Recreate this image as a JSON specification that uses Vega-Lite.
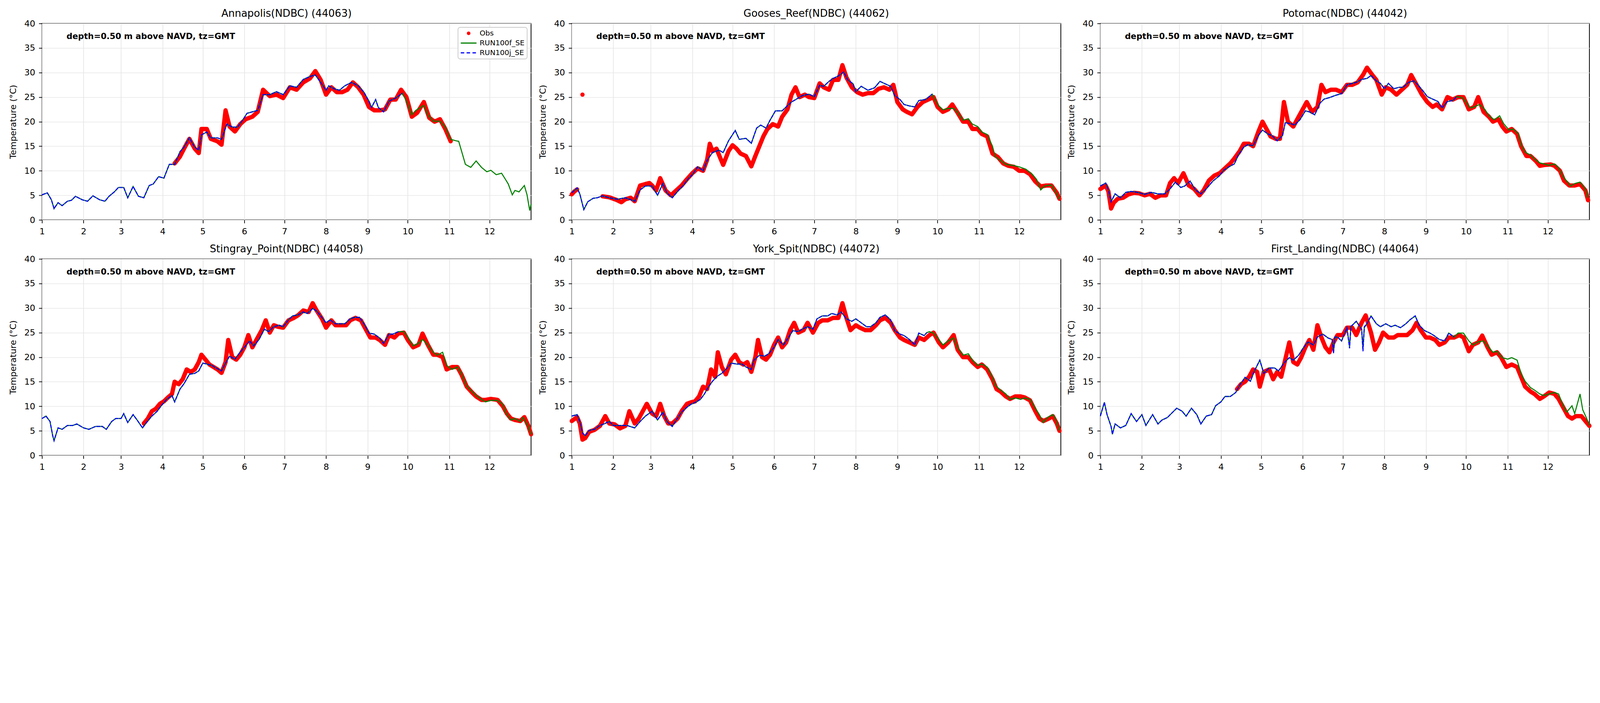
{
"$schema":"https://vega.github.io/schema/vega-lite/v6.json",
"background":"white",
"padding":{"left":20.5,"top":21,"right":25,"bottom":8},
"config":{
"font":"DejaVu Sans",
"view":{"stroke":"black","strokeWidth":2},
"title":{"font":"DejaVu Sans","fontSize":26,"fontWeight":"normal","color":"black","offset":1,"anchor":"middle"},
"axis":{"labelFont":"DejaVu Sans","titleFont":"DejaVu Sans","labelFontSize":22,"titleFontSize":22,"titleFontWeight":"normal","labelColor":"black","titleColor":"black","tickColor":"black","tickSize":8.2,"tickWidth":1.8,"domain":false,"gridColor":"#e6e6e6","gridWidth":1.7,"labelPadding":9.6,"labelFlush":false,"labelOverlap":false}
},
"data":{"values":[
{"p":1,"a":"depth=0.50 m above NAVD, tz=GMT"},{"p":2,"a":"depth=0.50 m above NAVD, tz=GMT"},{"p":3,"a":"depth=0.50 m above NAVD, tz=GMT"},{"p":4,"a":"depth=0.50 m above NAVD, tz=GMT"},{"p":5,"a":"depth=0.50 m above NAVD, tz=GMT"},{"p":6,"a":"depth=0.50 m above NAVD, tz=GMT"},
{"p":1,"d":0,"f":5.1,"j":5.1},{"p":1,"d":4,"f":5.5,"j":5.5},{"p":1,"d":7,"f":4.1,"j":4.1},{"p":1,"d":9,"f":2.3,"j":2.3},{"p":1,"d":12,"f":3.5,"j":3.5},{"p":1,"d":15,"f":2.9,"j":2.9},{"p":1,"d":19,"f":3.8,"j":3.8},{"p":1,"d":22,"f":4.0,"j":4.0},{"p":1,"d":25,"f":4.8,"j":4.8},{"p":1,"d":30,"f":4.1,"j":4.1},{"p":1,"d":34,"f":3.8,"j":3.8},{"p":1,"d":38,"f":4.9,"j":4.9},{"p":1,"d":43,"f":4.1,"j":4.1},{"p":1,"d":47,"f":3.8,"j":3.8},{"p":1,"d":50,"f":4.8,"j":4.8},{"p":1,"d":54,"f":5.7,"j":5.7},{"p":1,"d":57,"f":6.6,"j":6.6},{"p":1,"d":61,"f":6.6,"j":6.6},{"p":1,"d":64,"f":4.5,"j":4.5},{"p":1,"d":68,"f":6.8,"j":6.8},{"p":1,"d":72,"f":4.8,"j":4.8},{"p":1,"d":76,"f":4.5,"j":4.5},{"p":1,"d":80,"f":7.0,"j":7.0},{"p":1,"d":83,"f":7.3,"j":7.3},{"p":1,"d":87,"f":8.8,"j":8.8},{"p":1,"d":91,"f":8.5,"j":8.5},{"p":1,"d":95,"f":11.3,"j":11.3},{"p":1,"d":99,"f":11.3,"j":11.3},{"p":1,"d":103,"f":13.9,"j":13.9},{"p":1,"d":106,"f":14.8,"j":14.8},{"p":1,"d":110,"f":16.7,"j":16.7},{"p":1,"d":114,"f":14.8,"j":14.8},{"p":1,"d":117,"f":14.2,"j":14.2},{"p":1,"d":119,"f":17.3,"j":17.3},{"p":1,"d":123,"f":17.9,"j":17.9},{"p":1,"d":126,"f":16.7,"j":16.7},{"p":1,"d":131,"f":16.7,"j":16.7},{"p":1,"d":134,"f":16.4,"j":16.4},{"p":1,"d":138,"f":19.5,"j":19.5},{"p":1,"d":142,"f":18.9,"j":18.9},{"p":1,"d":146,"f":18.9,"j":18.9},{"p":1,"d":150,"f":20.4,"j":20.4},{"p":1,"d":153,"f":21.7,"j":21.7},{"p":1,"d":157,"f":22.0,"j":22.0},{"p":1,"d":161,"f":22.3,"j":22.3},{"p":1,"d":165,"f":25.5,"j":25.5},{"p":1,"d":170,"f":25.5,"j":25.5},{"p":1,"d":175,"f":26.1,"j":26.1},{"p":1,"d":180,"f":25.5,"j":25.5},{"p":1,"d":185,"f":27.3,"j":27.3},{"p":1,"d":190,"f":27.0,"j":27.0},{"p":1,"d":195,"f":28.6,"j":28.6},{"p":1,"d":200,"f":29.2,"j":29.2},{"p":1,"d":204,"f":29.5,"j":29.5},{"p":1,"d":208,"f":28.0,"j":28.0},{"p":1,"d":212,"f":26.4,"j":26.4},{"p":1,"d":214,"f":27.3,"j":27.3},{"p":1,"d":218,"f":26.7,"j":26.7},{"p":1,"d":222,"f":26.4,"j":26.4},{"p":1,"d":226,"f":27.3,"j":27.3},{"p":1,"d":231,"f":28.0,"j":28.0},{"p":1,"d":236,"f":27.3,"j":27.3},{"p":1,"d":240,"f":26.1,"j":26.1},{"p":1,"d":244,"f":24.2,"j":24.2},{"p":1,"d":246,"f":22.9,"j":22.9},{"p":1,"d":249,"f":24.5,"j":24.5},{"p":1,"d":251,"f":22.9,"j":22.9},{"p":1,"d":255,"f":22.0,"j":22.0},{"p":1,"d":259,"f":24.2,"j":24.2},{"p":1,"d":264,"f":24.8,"j":24.8},{"p":1,"d":269,"f":25.8,"j":25.8},
{"p":1,"d":273,"f":23.6},{"p":1,"d":276,"f":21.4},{"p":1,"d":279,"f":22.3},{"p":1,"d":285,"f":23.3},{"p":1,"d":288,"f":21.4},{"p":1,"d":292,"f":20.1},{"p":1,"d":297,"f":20.1},{"p":1,"d":301,"f":18.9},{"p":1,"d":305,"f":16.4},{"p":1,"d":309,"f":16.1},{"p":1,"d":311,"f":16.0},{"p":1,"d":314,"f":13.2},{"p":1,"d":316,"f":11.3},{"p":1,"d":320,"f":10.7},{"p":1,"d":324,"f":12.0},{"p":1,"d":328,"f":10.7},{"p":1,"d":332,"f":9.8},{"p":1,"d":335,"f":10.1},{"p":1,"d":339,"f":9.2},{"p":1,"d":343,"f":9.5},{"p":1,"d":346,"f":8.2},{"p":1,"d":348,"f":7.3},{"p":1,"d":351,"f":5.1},{"p":1,"d":353,"f":6.0},{"p":1,"d":356,"f":5.7},{"p":1,"d":360,"f":7.0},{"p":1,"d":362,"f":5.1},{"p":1,"d":364,"f":1.9},{"p":1,"d":365,"f":3.2},
{"p":1,"d":99,"o":11.5},{"p":1,"d":103,"o":12.9},{"p":1,"d":106,"o":14.5},{"p":1,"d":110,"o":16.5},{"p":1,"d":114,"o":14.5},{"p":1,"d":117,"o":13.6},{"p":1,"d":119,"o":18.5},{"p":1,"d":123,"o":18.5},{"p":1,"d":126,"o":16.5},{"p":1,"d":131,"o":16.0},{"p":1,"d":134,"o":15.3},{"p":1,"d":137,"o":22.3},{"p":1,"d":140,"o":19.0},{"p":1,"d":144,"o":18.0},{"p":1,"d":148,"o":19.5},{"p":1,"d":152,"o":20.5},{"p":1,"d":157,"o":21.0},{"p":1,"d":161,"o":22.0},{"p":1,"d":165,"o":26.5},{"p":1,"d":170,"o":25.2},{"p":1,"d":175,"o":25.5},{"p":1,"d":180,"o":24.8},{"p":1,"d":185,"o":27.0},{"p":1,"d":190,"o":26.5},{"p":1,"d":195,"o":28.0},{"p":1,"d":200,"o":28.8},{"p":1,"d":204,"o":30.3},{"p":1,"d":208,"o":28.5},{"p":1,"d":212,"o":25.5},{"p":1,"d":216,"o":27.0},{"p":1,"d":220,"o":26.0},{"p":1,"d":224,"o":26.0},{"p":1,"d":228,"o":26.5},{"p":1,"d":232,"o":28.0},{"p":1,"d":236,"o":27.0},{"p":1,"d":240,"o":25.5},{"p":1,"d":244,"o":23.0},{"p":1,"d":248,"o":22.3},{"p":1,"d":252,"o":22.3},{"p":1,"d":256,"o":22.5},{"p":1,"d":260,"o":24.5},{"p":1,"d":264,"o":24.5},{"p":1,"d":268,"o":26.5},{"p":1,"d":272,"o":25.0},{"p":1,"d":276,"o":21.0},{"p":1,"d":280,"o":21.8},{"p":1,"d":285,"o":24.0},{"p":1,"d":289,"o":20.8},{"p":1,"d":293,"o":20.0},{"p":1,"d":297,"o":20.5},{"p":1,"d":301,"o":18.5},{"p":1,"d":305,"o":16.0},
{"p":2,"d":0,"f":5.5,"j":5.5},{"p":2,"d":4,"f":6.5,"j":6.5},{"p":2,"d":6,"f":5.3,"j":5.3},{"p":2,"d":9,"f":2.1,"j":2.1},{"p":2,"d":12,"f":3.7,"j":3.7},{"p":2,"d":16,"f":4.4,"j":4.4},{"p":2,"d":19,"f":4.5,"j":4.5},{"p":2,"d":23,"f":4.9,"j":4.9},{"p":2,"d":28,"f":4.5,"j":4.5},{"p":2,"d":34,"f":4.2,"j":4.2},{"p":2,"d":40,"f":4.5,"j":4.5},{"p":2,"d":47,"f":3.8,"j":3.8},{"p":2,"d":51,"f":6.1,"j":6.1},{"p":2,"d":55,"f":6.9,"j":6.9},{"p":2,"d":60,"f":6.9,"j":6.9},{"p":2,"d":64,"f":5.0,"j":5.0},{"p":2,"d":68,"f":7.4,"j":7.4},{"p":2,"d":71,"f":5.5,"j":5.5},{"p":2,"d":75,"f":4.5,"j":4.5},{"p":2,"d":80,"f":6.1,"j":6.1},{"p":2,"d":83,"f":6.9,"j":6.9},{"p":2,"d":87,"f":8.4,"j":8.4},{"p":2,"d":90,"f":9.2,"j":9.2},{"p":2,"d":94,"f":10.8,"j":10.8},{"p":2,"d":98,"f":10.0,"j":10.0},{"p":2,"d":101,"f":12.1,"j":12.1},{"p":2,"d":105,"f":13.7,"j":13.7},{"p":2,"d":110,"f":14.2,"j":14.2},{"p":2,"d":113,"f":13.7,"j":13.7},{"p":2,"d":117,"f":16.1,"j":16.1},{"p":2,"d":122,"f":18.2,"j":18.2},{"p":2,"d":125,"f":16.4,"j":16.4},{"p":2,"d":130,"f":16.6,"j":16.6},{"p":2,"d":134,"f":15.6,"j":15.6},{"p":2,"d":138,"f":18.7,"j":18.7},{"p":2,"d":141,"f":19.3,"j":19.3},{"p":2,"d":145,"f":18.7,"j":18.7},{"p":2,"d":148,"f":20.3,"j":20.3},{"p":2,"d":152,"f":22.2,"j":22.2},{"p":2,"d":157,"f":22.2,"j":22.2},{"p":2,"d":160,"f":23.0,"j":23.0},{"p":2,"d":164,"f":24.0,"j":24.0},{"p":2,"d":169,"f":24.8,"j":24.8},{"p":2,"d":172,"f":25.3,"j":25.3},{"p":2,"d":177,"f":25.6,"j":25.6},{"p":2,"d":181,"f":25.1,"j":25.1},{"p":2,"d":185,"f":27.4,"j":27.4},{"p":2,"d":188,"f":27.2,"j":27.2},{"p":2,"d":192,"f":28.2,"j":28.2},{"p":2,"d":195,"f":28.8,"j":28.8},{"p":2,"d":199,"f":29.3,"j":29.3},{"p":2,"d":203,"f":30.1,"j":30.1},{"p":2,"d":206,"f":28.5,"j":28.5},{"p":2,"d":210,"f":27.7,"j":27.7},{"p":2,"d":212,"f":26.1,"j":26.1},{"p":2,"d":216,"f":27.2,"j":27.2},{"p":2,"d":221,"f":26.4,"j":26.4},{"p":2,"d":226,"f":26.9,"j":26.9},{"p":2,"d":230,"f":28.2,"j":28.2},{"p":2,"d":234,"f":27.7,"j":27.7},{"p":2,"d":238,"f":27.2,"j":27.2},{"p":2,"d":241,"f":25.3,"j":25.3},{"p":2,"d":245,"f":24.5,"j":24.5},{"p":2,"d":248,"f":23.5,"j":23.5},{"p":2,"d":252,"f":23.2,"j":23.2},{"p":2,"d":256,"f":23.0,"j":23.0},{"p":2,"d":259,"f":24.3,"j":24.3},{"p":2,"d":264,"f":24.5,"j":24.5},{"p":2,"d":269,"f":25.6,"j":25.6},
{"p":2,"d":271,"f":24.5},{"p":2,"d":274,"f":23.2},{"p":2,"d":277,"f":22.4},{"p":2,"d":281,"f":22.7},{"p":2,"d":285,"f":22.7},{"p":2,"d":288,"f":21.9},{"p":2,"d":292,"f":20.3},{"p":2,"d":296,"f":20.6},{"p":2,"d":299,"f":19.5},{"p":2,"d":303,"f":19.0},{"p":2,"d":306,"f":17.9},{"p":2,"d":310,"f":17.4},{"p":2,"d":314,"f":15.0},{"p":2,"d":316,"f":12.9},{"p":2,"d":320,"f":12.1},{"p":2,"d":324,"f":11.3},{"p":2,"d":329,"f":11.1},{"p":2,"d":334,"f":10.8},{"p":2,"d":339,"f":10.3},{"p":2,"d":344,"f":9.2},{"p":2,"d":347,"f":8.2},{"p":2,"d":350,"f":6.1},{"p":2,"d":353,"f":6.9},{"p":2,"d":358,"f":7.1},{"p":2,"d":362,"f":5.3},{"p":2,"d":364,"f":4.2},
{"p":2,"d":0,"o":5.2,"g":2},{"p":2,"d":2,"o":5.8,"g":2},{"p":2,"d":4,"o":6.2,"g":2},{"p":2,"d":8,"o":25.5,"g":1},
{"p":2,"d":23,"o":4.8},{"p":2,"d":28,"o":4.6},{"p":2,"d":34,"o":4.0},{"p":2,"d":37,"o":3.6},{"p":2,"d":40,"o":4.2},{"p":2,"d":44,"o":4.5},{"p":2,"d":47,"o":3.8},{"p":2,"d":51,"o":7.0},{"p":2,"d":55,"o":7.3},{"p":2,"d":58,"o":7.5},{"p":2,"d":60,"o":7.0},{"p":2,"d":63,"o":6.0},{"p":2,"d":66,"o":8.5},{"p":2,"d":70,"o":6.0},{"p":2,"d":74,"o":5.0},{"p":2,"d":78,"o":6.0},{"p":2,"d":82,"o":7.0},{"p":2,"d":86,"o":8.3},{"p":2,"d":90,"o":9.5},{"p":2,"d":94,"o":10.5},{"p":2,"d":98,"o":10.0},{"p":2,"d":101,"o":12.2},{"p":2,"d":103,"o":15.5},{"p":2,"d":105,"o":14.0},{"p":2,"d":108,"o":14.5},{"p":2,"d":111,"o":12.5},{"p":2,"d":113,"o":11.2},{"p":2,"d":117,"o":14.0},{"p":2,"d":120,"o":15.2},{"p":2,"d":123,"o":14.5},{"p":2,"d":126,"o":13.5},{"p":2,"d":130,"o":13.0},{"p":2,"d":134,"o":10.9},{"p":2,"d":137,"o":13.0},{"p":2,"d":140,"o":15.0},{"p":2,"d":143,"o":17.0},{"p":2,"d":146,"o":18.5},{"p":2,"d":150,"o":19.5},{"p":2,"d":154,"o":19.0},{"p":2,"d":157,"o":21.0},{"p":2,"d":161,"o":22.5},{"p":2,"d":164,"o":25.5},{"p":2,"d":167,"o":27.0},{"p":2,"d":170,"o":25.0},{"p":2,"d":174,"o":25.5},{"p":2,"d":177,"o":25.0},{"p":2,"d":181,"o":24.8},{"p":2,"d":185,"o":27.8},{"p":2,"d":188,"o":27.0},{"p":2,"d":192,"o":26.5},{"p":2,"d":195,"o":28.5},{"p":2,"d":199,"o":28.5},{"p":2,"d":202,"o":31.5},{"p":2,"d":205,"o":29.0},{"p":2,"d":209,"o":27.0},{"p":2,"d":213,"o":26.0},{"p":2,"d":217,"o":25.5},{"p":2,"d":221,"o":25.8},{"p":2,"d":225,"o":25.8},{"p":2,"d":229,"o":26.7},{"p":2,"d":233,"o":27.0},{"p":2,"d":237,"o":26.5},{"p":2,"d":240,"o":27.5},{"p":2,"d":243,"o":24.0},{"p":2,"d":247,"o":22.5},{"p":2,"d":250,"o":22.0},{"p":2,"d":254,"o":21.5},{"p":2,"d":258,"o":23.0},{"p":2,"d":262,"o":24.0},{"p":2,"d":266,"o":24.5},{"p":2,"d":270,"o":25.0},{"p":2,"d":273,"o":23.0},{"p":2,"d":277,"o":22.0},{"p":2,"d":281,"o":22.5},{"p":2,"d":284,"o":23.5},{"p":2,"d":288,"o":21.8},{"p":2,"d":292,"o":20.0},{"p":2,"d":296,"o":20.0},{"p":2,"d":299,"o":18.5},{"p":2,"d":303,"o":18.5},{"p":2,"d":306,"o":17.5},{"p":2,"d":310,"o":17.0},{"p":2,"d":314,"o":13.5},{"p":2,"d":318,"o":12.8},{"p":2,"d":322,"o":11.5},{"p":2,"d":326,"o":11.0},{"p":2,"d":330,"o":10.8},{"p":2,"d":334,"o":10.0},{"p":2,"d":338,"o":10.0},{"p":2,"d":342,"o":9.3},{"p":2,"d":346,"o":7.8},{"p":2,"d":350,"o":6.8},{"p":2,"d":354,"o":7.0},{"p":2,"d":358,"o":7.0},{"p":2,"d":362,"o":5.5},{"p":2,"d":364,"o":4.3},
{"p":3,"d":0,"f":6.9,"j":6.9},{"p":3,"d":4,"f":7.5,"j":7.5},{"p":3,"d":6,"f":6.1,"j":6.1},{"p":3,"d":8,"f":3.7,"j":3.7},{"p":3,"d":11,"f":5.3,"j":5.3},{"p":3,"d":15,"f":4.5,"j":4.5},{"p":3,"d":19,"f":5.6,"j":5.6},{"p":3,"d":23,"f":5.8,"j":5.8},{"p":3,"d":28,"f":5.6,"j":5.6},{"p":3,"d":33,"f":5.2,"j":5.2},{"p":3,"d":38,"f":5.6,"j":5.6},{"p":3,"d":43,"f":5.3,"j":5.3},{"p":3,"d":48,"f":5.3,"j":5.3},{"p":3,"d":52,"f":6.3,"j":6.3},{"p":3,"d":56,"f":7.7,"j":7.7},{"p":3,"d":60,"f":6.6,"j":6.6},{"p":3,"d":63,"f":6.9,"j":6.9},{"p":3,"d":67,"f":7.9,"j":7.9},{"p":3,"d":71,"f":6.1,"j":6.1},{"p":3,"d":75,"f":5.3,"j":5.3},{"p":3,"d":79,"f":6.3,"j":6.3},{"p":3,"d":84,"f":7.9,"j":7.9},{"p":3,"d":89,"f":9.0,"j":9.0},{"p":3,"d":92,"f":10.1,"j":10.1},{"p":3,"d":96,"f":10.8,"j":10.8},{"p":3,"d":100,"f":11.4,"j":11.4},{"p":3,"d":103,"f":13.2,"j":13.2},{"p":3,"d":107,"f":14.8,"j":14.8},{"p":3,"d":110,"f":15.3,"j":15.3},{"p":3,"d":114,"f":15.1,"j":15.1},{"p":3,"d":118,"f":17.2,"j":17.2},{"p":3,"d":121,"f":18.3,"j":18.3},{"p":3,"d":125,"f":17.5,"j":17.5},{"p":3,"d":128,"f":17.2,"j":17.2},{"p":3,"d":132,"f":16.1,"j":16.1},{"p":3,"d":136,"f":17.2,"j":17.2},{"p":3,"d":138,"f":19.8,"j":19.8},{"p":3,"d":142,"f":19.6,"j":19.6},{"p":3,"d":145,"f":19.3,"j":19.3},{"p":3,"d":149,"f":20.4,"j":20.4},{"p":3,"d":153,"f":22.2,"j":22.2},{"p":3,"d":156,"f":22.0,"j":22.0},{"p":3,"d":160,"f":21.4,"j":21.4},{"p":3,"d":164,"f":23.8,"j":23.8},{"p":3,"d":167,"f":24.6,"j":24.6},{"p":3,"d":171,"f":24.9,"j":24.9},{"p":3,"d":176,"f":25.4,"j":25.4},{"p":3,"d":180,"f":25.7,"j":25.7},{"p":3,"d":184,"f":27.5,"j":27.5},{"p":3,"d":188,"f":27.8,"j":27.8},{"p":3,"d":191,"f":28.0,"j":28.0},{"p":3,"d":195,"f":28.6,"j":28.6},{"p":3,"d":199,"f":28.8,"j":28.8},{"p":3,"d":202,"f":29.4,"j":29.4},{"p":3,"d":206,"f":28.3,"j":28.3},{"p":3,"d":209,"f":27.8,"j":27.8},{"p":3,"d":212,"f":26.7,"j":26.7},{"p":3,"d":215,"f":27.8,"j":27.8},{"p":3,"d":219,"f":26.7,"j":26.7},{"p":3,"d":223,"f":27.0,"j":27.0},{"p":3,"d":226,"f":27.0,"j":27.0},{"p":3,"d":230,"f":28.0,"j":28.0},{"p":3,"d":234,"f":28.3,"j":28.3},{"p":3,"d":237,"f":27.5,"j":27.5},{"p":3,"d":241,"f":26.2,"j":26.2},{"p":3,"d":244,"f":25.1,"j":25.1},{"p":3,"d":248,"f":24.6,"j":24.6},{"p":3,"d":252,"f":24.1,"j":24.1},{"p":3,"d":255,"f":22.8,"j":22.8},{"p":3,"d":259,"f":24.1,"j":24.1},{"p":3,"d":263,"f":24.3,"j":24.3},{"p":3,"d":266,"f":25.1,"j":25.1},
{"p":3,"d":270,"f":24.9},{"p":3,"d":272,"f":24.3},{"p":3,"d":276,"f":22.8},{"p":3,"d":279,"f":23.0},{"p":3,"d":283,"f":23.5},{"p":3,"d":287,"f":22.5},{"p":3,"d":290,"f":21.2},{"p":3,"d":294,"f":20.4},{"p":3,"d":298,"f":21.2},{"p":3,"d":301,"f":19.6},{"p":3,"d":305,"f":18.3},{"p":3,"d":308,"f":18.5},{"p":3,"d":312,"f":17.5},{"p":3,"d":314,"f":15.3},{"p":3,"d":317,"f":13.8},{"p":3,"d":321,"f":13.2},{"p":3,"d":324,"f":12.4},{"p":3,"d":328,"f":11.6},{"p":3,"d":331,"f":11.4},{"p":3,"d":335,"f":11.1},{"p":3,"d":339,"f":11.4},{"p":3,"d":342,"f":10.6},{"p":3,"d":345,"f":9.0},{"p":3,"d":348,"f":7.9},{"p":3,"d":351,"f":6.9},{"p":3,"d":354,"f":7.4},{"p":3,"d":358,"f":7.7},{"p":3,"d":362,"f":6.3},{"p":3,"d":364,"f":4.5},
{"p":3,"d":0,"o":6.3},{"p":3,"d":4,"o":7.0},{"p":3,"d":6,"o":5.8},{"p":3,"d":8,"o":2.3},{"p":3,"d":10,"o":3.5},{"p":3,"d":13,"o":4.3},{"p":3,"d":17,"o":4.5},{"p":3,"d":21,"o":5.2},{"p":3,"d":25,"o":5.5},{"p":3,"d":29,"o":5.4},{"p":3,"d":33,"o":5.0},{"p":3,"d":37,"o":5.3},{"p":3,"d":41,"o":4.5},{"p":3,"d":45,"o":5.0},{"p":3,"d":49,"o":5.0},{"p":3,"d":52,"o":7.5},{"p":3,"d":55,"o":8.5},{"p":3,"d":58,"o":7.5},{"p":3,"d":62,"o":9.5},{"p":3,"d":66,"o":7.0},{"p":3,"d":70,"o":6.3},{"p":3,"d":74,"o":5.0},{"p":3,"d":77,"o":6.0},{"p":3,"d":81,"o":8.0},{"p":3,"d":85,"o":9.0},{"p":3,"d":89,"o":9.5},{"p":3,"d":93,"o":10.5},{"p":3,"d":97,"o":11.5},{"p":3,"d":100,"o":12.5},{"p":3,"d":104,"o":14.0},{"p":3,"d":107,"o":15.5},{"p":3,"d":111,"o":15.5},{"p":3,"d":114,"o":15.0},{"p":3,"d":118,"o":18.0},{"p":3,"d":121,"o":20.0},{"p":3,"d":124,"o":18.5},{"p":3,"d":127,"o":17.0},{"p":3,"d":131,"o":16.5},{"p":3,"d":134,"o":16.5},{"p":3,"d":137,"o":24.0},{"p":3,"d":140,"o":20.0},{"p":3,"d":144,"o":19.0},{"p":3,"d":147,"o":20.5},{"p":3,"d":151,"o":22.5},{"p":3,"d":154,"o":24.0},{"p":3,"d":158,"o":22.0},{"p":3,"d":162,"o":23.0},{"p":3,"d":165,"o":27.5},{"p":3,"d":168,"o":26.0},{"p":3,"d":172,"o":26.5},{"p":3,"d":176,"o":26.5},{"p":3,"d":180,"o":26.0},{"p":3,"d":184,"o":27.5},{"p":3,"d":188,"o":27.5},{"p":3,"d":192,"o":28.0},{"p":3,"d":196,"o":29.5},{"p":3,"d":199,"o":31.0},{"p":3,"d":203,"o":29.5},{"p":3,"d":206,"o":28.5},{"p":3,"d":210,"o":25.5},{"p":3,"d":213,"o":27.0},{"p":3,"d":217,"o":26.5},{"p":3,"d":221,"o":25.5},{"p":3,"d":225,"o":26.5},{"p":3,"d":229,"o":27.5},{"p":3,"d":232,"o":29.5},{"p":3,"d":236,"o":27.5},{"p":3,"d":240,"o":25.5},{"p":3,"d":244,"o":24.0},{"p":3,"d":248,"o":23.0},{"p":3,"d":251,"o":23.5},{"p":3,"d":255,"o":22.5},{"p":3,"d":259,"o":25.0},{"p":3,"d":263,"o":24.5},{"p":3,"d":267,"o":25.0},{"p":3,"d":271,"o":25.0},{"p":3,"d":275,"o":22.5},{"p":3,"d":279,"o":23.0},{"p":3,"d":282,"o":25.0},{"p":3,"d":286,"o":22.0},{"p":3,"d":290,"o":21.0},{"p":3,"d":293,"o":20.0},{"p":3,"d":297,"o":20.5},{"p":3,"d":300,"o":19.0},{"p":3,"d":303,"o":18.0},{"p":3,"d":307,"o":18.5},{"p":3,"d":311,"o":17.5},{"p":3,"d":314,"o":15.0},{"p":3,"d":318,"o":13.0},{"p":3,"d":321,"o":13.0},{"p":3,"d":325,"o":12.0},{"p":3,"d":328,"o":11.0},{"p":3,"d":332,"o":11.2},{"p":3,"d":336,"o":11.3},{"p":3,"d":339,"o":11.0},{"p":3,"d":343,"o":10.0},{"p":3,"d":346,"o":8.0},{"p":3,"d":350,"o":7.0},{"p":3,"d":354,"o":7.0},{"p":3,"d":358,"o":7.3},{"p":3,"d":362,"o":6.0},{"p":3,"d":364,"o":4.0},
{"p":4,"d":0,"f":7.5,"j":7.5},{"p":4,"d":3,"f":8.0,"j":8.0},{"p":4,"d":6,"f":6.9,"j":6.9},{"p":4,"d":8,"f":4.0,"j":4.0},{"p":4,"d":9,"f":3.0,"j":3.0},{"p":4,"d":12,"f":5.6,"j":5.6},{"p":4,"d":15,"f":5.3,"j":5.3},{"p":4,"d":19,"f":6.1,"j":6.1},{"p":4,"d":23,"f":6.1,"j":6.1},{"p":4,"d":26,"f":6.4,"j":6.4},{"p":4,"d":31,"f":5.6,"j":5.6},{"p":4,"d":35,"f":5.3,"j":5.3},{"p":4,"d":40,"f":5.9,"j":5.9},{"p":4,"d":45,"f":5.9,"j":5.9},{"p":4,"d":48,"f":5.3,"j":5.3},{"p":4,"d":52,"f":6.9,"j":6.9},{"p":4,"d":55,"f":7.5,"j":7.5},{"p":4,"d":59,"f":7.5,"j":7.5},{"p":4,"d":61,"f":8.5,"j":8.5},{"p":4,"d":64,"f":6.7,"j":6.7},{"p":4,"d":68,"f":8.3,"j":8.3},{"p":4,"d":71,"f":7.2,"j":7.2},{"p":4,"d":75,"f":5.6,"j":5.6},{"p":4,"d":78,"f":6.7,"j":6.7},{"p":4,"d":82,"f":8.0,"j":8.0},{"p":4,"d":86,"f":9.0,"j":9.0},{"p":4,"d":89,"f":10.1,"j":10.1},{"p":4,"d":93,"f":11.4,"j":11.4},{"p":4,"d":97,"f":12.2,"j":12.2},{"p":4,"d":99,"f":10.9,"j":10.9},{"p":4,"d":103,"f":13.5,"j":13.5},{"p":4,"d":106,"f":14.6,"j":14.6},{"p":4,"d":110,"f":16.5,"j":16.5},{"p":4,"d":114,"f":16.7,"j":16.7},{"p":4,"d":117,"f":17.2,"j":17.2},{"p":4,"d":120,"f":18.8,"j":18.8},{"p":4,"d":123,"f":18.6,"j":18.6},{"p":4,"d":127,"f":18.3,"j":18.3},{"p":4,"d":130,"f":17.8,"j":17.8},{"p":4,"d":134,"f":17.2,"j":17.2},{"p":4,"d":137,"f":18.8,"j":18.8},{"p":4,"d":140,"f":20.2,"j":20.2},{"p":4,"d":144,"f":19.6,"j":19.6},{"p":4,"d":147,"f":20.7,"j":20.7},{"p":4,"d":151,"f":22.0,"j":22.0},{"p":4,"d":155,"f":23.3,"j":23.3},{"p":4,"d":158,"f":22.3,"j":22.3},{"p":4,"d":162,"f":23.6,"j":23.6},{"p":4,"d":166,"f":25.7,"j":25.7},{"p":4,"d":169,"f":25.2,"j":25.2},{"p":4,"d":173,"f":26.2,"j":26.2},{"p":4,"d":177,"f":26.5,"j":26.5},{"p":4,"d":180,"f":26.2,"j":26.2},{"p":4,"d":184,"f":27.6,"j":27.6},{"p":4,"d":187,"f":28.4,"j":28.4},{"p":4,"d":191,"f":28.6,"j":28.6},{"p":4,"d":195,"f":29.2,"j":29.2},{"p":4,"d":198,"f":28.9,"j":28.9},{"p":4,"d":202,"f":29.9,"j":29.9},{"p":4,"d":205,"f":29.4,"j":29.4},{"p":4,"d":208,"f":28.4,"j":28.4},{"p":4,"d":212,"f":27.0,"j":27.0},{"p":4,"d":215,"f":27.6,"j":27.6},{"p":4,"d":219,"f":26.8,"j":26.8},{"p":4,"d":223,"f":26.8,"j":26.8},{"p":4,"d":226,"f":26.8,"j":26.8},{"p":4,"d":230,"f":27.8,"j":27.8},{"p":4,"d":233,"f":28.1,"j":28.1},{"p":4,"d":237,"f":28.1,"j":28.1},{"p":4,"d":241,"f":26.5,"j":26.5},{"p":4,"d":244,"f":24.9,"j":24.9},{"p":4,"d":248,"f":24.7,"j":24.7},{"p":4,"d":252,"f":23.9,"j":23.9},{"p":4,"d":255,"f":22.8,"j":22.8},{"p":4,"d":259,"f":24.7,"j":24.7},{"p":4,"d":262,"f":24.7,"j":24.7},{"p":4,"d":266,"f":25.2,"j":25.2},
{"p":4,"d":270,"f":25.2},{"p":4,"d":273,"f":24.1},{"p":4,"d":277,"f":22.3},{"p":4,"d":281,"f":22.8},{"p":4,"d":284,"f":23.6},{"p":4,"d":288,"f":22.5},{"p":4,"d":292,"f":21.0},{"p":4,"d":295,"f":20.4},{"p":4,"d":299,"f":21.0},{"p":4,"d":302,"f":18.3},{"p":4,"d":306,"f":17.5},{"p":4,"d":310,"f":18.0},{"p":4,"d":313,"f":16.7},{"p":4,"d":317,"f":14.1},{"p":4,"d":321,"f":13.0},{"p":4,"d":324,"f":12.2},{"p":4,"d":328,"f":11.4},{"p":4,"d":331,"f":10.9},{"p":4,"d":335,"f":11.2},{"p":4,"d":340,"f":11.2},{"p":4,"d":344,"f":10.4},{"p":4,"d":346,"f":8.8},{"p":4,"d":350,"f":7.2},{"p":4,"d":353,"f":7.5},{"p":4,"d":357,"f":6.9},{"p":4,"d":359,"f":7.7},{"p":4,"d":363,"f":5.9},{"p":4,"d":365,"f":4.3},
{"p":4,"d":76,"o":6.5},{"p":4,"d":79,"o":7.5},{"p":4,"d":82,"o":9.0},{"p":4,"d":85,"o":9.5},{"p":4,"d":88,"o":10.5},{"p":4,"d":91,"o":11.0},{"p":4,"d":94,"o":11.8},{"p":4,"d":97,"o":12.5},{"p":4,"d":99,"o":15.0},{"p":4,"d":102,"o":14.5},{"p":4,"d":105,"o":15.5},{"p":4,"d":108,"o":17.5},{"p":4,"d":111,"o":17.0},{"p":4,"d":114,"o":17.5},{"p":4,"d":117,"o":19.0},{"p":4,"d":119,"o":20.5},{"p":4,"d":122,"o":19.5},{"p":4,"d":125,"o":18.5},{"p":4,"d":128,"o":18.0},{"p":4,"d":131,"o":17.5},{"p":4,"d":134,"o":16.8},{"p":4,"d":137,"o":19.0},{"p":4,"d":139,"o":23.5},{"p":4,"d":142,"o":20.0},{"p":4,"d":145,"o":19.5},{"p":4,"d":148,"o":20.5},{"p":4,"d":151,"o":22.0},{"p":4,"d":154,"o":24.5},{"p":4,"d":157,"o":22.0},{"p":4,"d":160,"o":23.5},{"p":4,"d":164,"o":25.5},{"p":4,"d":167,"o":27.5},{"p":4,"d":170,"o":25.0},{"p":4,"d":173,"o":26.5},{"p":4,"d":176,"o":26.2},{"p":4,"d":180,"o":26.0},{"p":4,"d":184,"o":27.5},{"p":4,"d":188,"o":28.0},{"p":4,"d":191,"o":28.5},{"p":4,"d":195,"o":29.5},{"p":4,"d":199,"o":29.2},{"p":4,"d":202,"o":31.0},{"p":4,"d":205,"o":29.5},{"p":4,"d":209,"o":27.8},{"p":4,"d":212,"o":26.0},{"p":4,"d":216,"o":27.5},{"p":4,"d":219,"o":26.5},{"p":4,"d":223,"o":26.5},{"p":4,"d":227,"o":26.5},{"p":4,"d":230,"o":27.5},{"p":4,"d":234,"o":28.0},{"p":4,"d":238,"o":27.5},{"p":4,"d":241,"o":26.0},{"p":4,"d":245,"o":24.0},{"p":4,"d":249,"o":24.0},{"p":4,"d":252,"o":23.5},{"p":4,"d":256,"o":22.5},{"p":4,"d":259,"o":24.5},{"p":4,"d":263,"o":24.0},{"p":4,"d":266,"o":24.8},{"p":4,"d":270,"o":25.0},{"p":4,"d":273,"o":23.5},{"p":4,"d":277,"o":22.0},{"p":4,"d":281,"o":22.5},{"p":4,"d":284,"o":24.8},{"p":4,"d":288,"o":22.5},{"p":4,"d":292,"o":20.5},{"p":4,"d":295,"o":20.5},{"p":4,"d":299,"o":20.0},{"p":4,"d":302,"o":17.5},{"p":4,"d":306,"o":18.0},{"p":4,"d":310,"o":18.0},{"p":4,"d":313,"o":16.5},{"p":4,"d":317,"o":14.0},{"p":4,"d":321,"o":12.8},{"p":4,"d":324,"o":12.0},{"p":4,"d":328,"o":11.3},{"p":4,"d":331,"o":11.3},{"p":4,"d":335,"o":11.5},{"p":4,"d":340,"o":11.3},{"p":4,"d":344,"o":10.0},{"p":4,"d":347,"o":8.5},{"p":4,"d":350,"o":7.5},{"p":4,"d":353,"o":7.2},{"p":4,"d":357,"o":7.0},{"p":4,"d":360,"o":7.8},{"p":4,"d":363,"o":6.0},{"p":4,"d":365,"o":4.3},
{"p":5,"d":0,"f":8.0,"j":8.0},{"p":5,"d":4,"f":8.3,"j":8.3},{"p":5,"d":6,"f":6.9,"j":6.9},{"p":5,"d":8,"f":4.6,"j":4.6},{"p":5,"d":10,"f":4.0,"j":4.0},{"p":5,"d":13,"f":5.1,"j":5.1},{"p":5,"d":17,"f":5.3,"j":5.3},{"p":5,"d":21,"f":6.1,"j":6.1},{"p":5,"d":24,"f":6.4,"j":6.4},{"p":5,"d":28,"f":6.9,"j":6.9},{"p":5,"d":31,"f":6.1,"j":6.1},{"p":5,"d":36,"f":6.1,"j":6.1},{"p":5,"d":41,"f":6.1,"j":6.1},{"p":5,"d":47,"f":5.6,"j":5.6},{"p":5,"d":51,"f":6.9,"j":6.9},{"p":5,"d":55,"f":8.0,"j":8.0},{"p":5,"d":60,"f":9.0,"j":9.0},{"p":5,"d":64,"f":7.2,"j":7.2},{"p":5,"d":68,"f":8.8,"j":8.8},{"p":5,"d":71,"f":6.9,"j":6.9},{"p":5,"d":75,"f":5.9,"j":5.9},{"p":5,"d":78,"f":7.2,"j":7.2},{"p":5,"d":82,"f":8.8,"j":8.8},{"p":5,"d":86,"f":9.8,"j":9.8},{"p":5,"d":89,"f":10.4,"j":10.4},{"p":5,"d":93,"f":10.9,"j":10.9},{"p":5,"d":96,"f":11.4,"j":11.4},{"p":5,"d":99,"f":12.5,"j":12.5},{"p":5,"d":101,"f":13.5,"j":13.5},{"p":5,"d":105,"f":15.1,"j":15.1},{"p":5,"d":109,"f":16.2,"j":16.2},{"p":5,"d":112,"f":16.7,"j":16.7},{"p":5,"d":116,"f":17.8,"j":17.8},{"p":5,"d":119,"f":18.8,"j":18.8},{"p":5,"d":123,"f":18.6,"j":18.6},{"p":5,"d":127,"f":18.6,"j":18.6},{"p":5,"d":130,"f":18.0,"j":18.0},{"p":5,"d":134,"f":17.5,"j":17.5},{"p":5,"d":136,"f":19.4,"j":19.4},{"p":5,"d":140,"f":20.4,"j":20.4},{"p":5,"d":144,"f":20.2,"j":20.2},{"p":5,"d":147,"f":20.7,"j":20.7},{"p":5,"d":151,"f":22.0,"j":22.0},{"p":5,"d":154,"f":23.6,"j":23.6},{"p":5,"d":158,"f":22.5,"j":22.5},{"p":5,"d":162,"f":24.1,"j":24.1},{"p":5,"d":165,"f":25.4,"j":25.4},{"p":5,"d":169,"f":25.2,"j":25.2},{"p":5,"d":172,"f":25.7,"j":25.7},{"p":5,"d":176,"f":26.2,"j":26.2},{"p":5,"d":180,"f":25.7,"j":25.7},{"p":5,"d":183,"f":27.8,"j":27.8},{"p":5,"d":187,"f":28.4,"j":28.4},{"p":5,"d":191,"f":28.4,"j":28.4},{"p":5,"d":194,"f":28.9,"j":28.9},{"p":5,"d":198,"f":28.6,"j":28.6},{"p":5,"d":201,"f":29.2,"j":29.2},{"p":5,"d":205,"f":27.8,"j":27.8},{"p":5,"d":209,"f":27.3,"j":27.3},{"p":5,"d":212,"f":27.8,"j":27.8},{"p":5,"d":216,"f":27.0,"j":27.0},{"p":5,"d":220,"f":26.2,"j":26.2},{"p":5,"d":223,"f":26.2,"j":26.2},{"p":5,"d":227,"f":27.0,"j":27.0},{"p":5,"d":230,"f":28.1,"j":28.1},{"p":5,"d":234,"f":28.6,"j":28.6},{"p":5,"d":238,"f":27.6,"j":27.6},{"p":5,"d":241,"f":25.4,"j":25.4},{"p":5,"d":245,"f":24.7,"j":24.7},{"p":5,"d":248,"f":24.4,"j":24.4},{"p":5,"d":252,"f":23.6,"j":23.6},{"p":5,"d":256,"f":22.5,"j":22.5},{"p":5,"d":259,"f":24.9,"j":24.9},{"p":5,"d":263,"f":24.4,"j":24.4},{"p":5,"d":265,"f":25.0,"j":25.0},
{"p":5,"d":267,"f":25.2},{"p":5,"d":270,"f":24.9},{"p":5,"d":274,"f":23.6},{"p":5,"d":277,"f":22.5},{"p":5,"d":281,"f":23.3},{"p":5,"d":285,"f":23.9},{"p":5,"d":288,"f":22.0},{"p":5,"d":292,"f":20.4},{"p":5,"d":296,"f":20.7},{"p":5,"d":299,"f":19.4},{"p":5,"d":303,"f":18.3},{"p":5,"d":306,"f":18.6},{"p":5,"d":310,"f":18.0},{"p":5,"d":314,"f":15.9},{"p":5,"d":316,"f":14.3},{"p":5,"d":320,"f":13.3},{"p":5,"d":324,"f":12.5},{"p":5,"d":327,"f":11.4},{"p":5,"d":331,"f":11.7},{"p":5,"d":335,"f":11.4},{"p":5,"d":338,"f":11.7},{"p":5,"d":342,"f":11.4},{"p":5,"d":346,"f":9.6},{"p":5,"d":349,"f":8.3},{"p":5,"d":352,"f":6.7},{"p":5,"d":355,"f":7.7},{"p":5,"d":359,"f":8.3},{"p":5,"d":361,"f":7.5},{"p":5,"d":364,"f":5.1},
{"p":5,"d":0,"o":7.0},{"p":5,"d":4,"o":7.8},{"p":5,"d":6,"o":6.5},{"p":5,"d":8,"o":3.2},{"p":5,"d":10,"o":3.5},{"p":5,"d":13,"o":4.8},{"p":5,"d":17,"o":5.2},{"p":5,"d":21,"o":6.0},{"p":5,"d":25,"o":8.0},{"p":5,"d":28,"o":6.5},{"p":5,"d":32,"o":6.3},{"p":5,"d":36,"o":5.5},{"p":5,"d":40,"o":6.0},{"p":5,"d":43,"o":9.0},{"p":5,"d":47,"o":6.5},{"p":5,"d":50,"o":7.5},{"p":5,"d":53,"o":9.0},{"p":5,"d":56,"o":10.5},{"p":5,"d":60,"o":8.5},{"p":5,"d":63,"o":8.0},{"p":5,"d":66,"o":10.5},{"p":5,"d":69,"o":8.0},{"p":5,"d":72,"o":6.5},{"p":5,"d":75,"o":6.5},{"p":5,"d":79,"o":7.5},{"p":5,"d":82,"o":9.0},{"p":5,"d":86,"o":10.5},{"p":5,"d":89,"o":10.8},{"p":5,"d":92,"o":11.0},{"p":5,"d":95,"o":12.0},{"p":5,"d":98,"o":14.0},{"p":5,"d":101,"o":13.5},{"p":5,"d":104,"o":17.5},{"p":5,"d":107,"o":16.0},{"p":5,"d":109,"o":21.0},{"p":5,"d":112,"o":18.0},{"p":5,"d":115,"o":16.5},{"p":5,"d":119,"o":19.5},{"p":5,"d":122,"o":20.5},{"p":5,"d":125,"o":19.0},{"p":5,"d":128,"o":18.5},{"p":5,"d":131,"o":19.0},{"p":5,"d":134,"o":17.0},{"p":5,"d":137,"o":20.0},{"p":5,"d":139,"o":23.5},{"p":5,"d":142,"o":20.0},{"p":5,"d":145,"o":19.5},{"p":5,"d":148,"o":20.5},{"p":5,"d":151,"o":22.5},{"p":5,"d":154,"o":24.0},{"p":5,"d":157,"o":22.0},{"p":5,"d":160,"o":23.0},{"p":5,"d":163,"o":25.5},{"p":5,"d":166,"o":27.0},{"p":5,"d":169,"o":25.0},{"p":5,"d":173,"o":25.5},{"p":5,"d":176,"o":27.0},{"p":5,"d":180,"o":25.0},{"p":5,"d":184,"o":27.0},{"p":5,"d":187,"o":27.5},{"p":5,"d":191,"o":27.5},{"p":5,"d":195,"o":28.0},{"p":5,"d":199,"o":28.0},{"p":5,"d":202,"o":31.0},{"p":5,"d":205,"o":28.0},{"p":5,"d":208,"o":25.5},{"p":5,"d":212,"o":26.5},{"p":5,"d":215,"o":26.0},{"p":5,"d":219,"o":25.5},{"p":5,"d":223,"o":25.5},{"p":5,"d":227,"o":26.5},{"p":5,"d":230,"o":27.5},{"p":5,"d":234,"o":28.0},{"p":5,"d":238,"o":27.0},{"p":5,"d":241,"o":25.5},{"p":5,"d":245,"o":24.0},{"p":5,"d":248,"o":23.5},{"p":5,"d":252,"o":23.0},{"p":5,"d":256,"o":22.5},{"p":5,"d":259,"o":24.0},{"p":5,"d":263,"o":23.5},{"p":5,"d":267,"o":24.5},{"p":5,"d":270,"o":25.0},{"p":5,"d":274,"o":23.0},{"p":5,"d":277,"o":22.0},{"p":5,"d":281,"o":23.0},{"p":5,"d":285,"o":24.5},{"p":5,"d":288,"o":21.5},{"p":5,"d":292,"o":20.0},{"p":5,"d":296,"o":20.0},{"p":5,"d":299,"o":19.0},{"p":5,"d":303,"o":18.0},{"p":5,"d":306,"o":18.5},{"p":5,"d":310,"o":17.5},{"p":5,"d":314,"o":15.5},{"p":5,"d":317,"o":13.5},{"p":5,"d":320,"o":13.0},{"p":5,"d":324,"o":12.0},{"p":5,"d":327,"o":11.5},{"p":5,"d":331,"o":12.0},{"p":5,"d":335,"o":12.0},{"p":5,"d":338,"o":11.8},{"p":5,"d":342,"o":11.2},{"p":5,"d":346,"o":9.0},{"p":5,"d":349,"o":7.5},{"p":5,"d":352,"o":7.0},{"p":5,"d":356,"o":7.5},{"p":5,"d":359,"o":8.0},{"p":5,"d":362,"o":6.5},{"p":5,"d":364,"o":5.0},
{"p":6,"d":0,"f":8.0,"j":8.0},{"p":6,"d":3,"f":10.8,"j":10.8},{"p":6,"d":5,"f":8.3,"j":8.3},{"p":6,"d":8,"f":5.9,"j":5.9},{"p":6,"d":9,"f":4.3,"j":4.3},{"p":6,"d":11,"f":6.4,"j":6.4},{"p":6,"d":15,"f":5.6,"j":5.6},{"p":6,"d":19,"f":6.1,"j":6.1},{"p":6,"d":23,"f":8.5,"j":8.5},{"p":6,"d":27,"f":6.9,"j":6.9},{"p":6,"d":31,"f":8.3,"j":8.3},{"p":6,"d":34,"f":6.1,"j":6.1},{"p":6,"d":39,"f":8.3,"j":8.3},{"p":6,"d":43,"f":6.4,"j":6.4},{"p":6,"d":46,"f":7.2,"j":7.2},{"p":6,"d":50,"f":7.7,"j":7.7},{"p":6,"d":54,"f":8.8,"j":8.8},{"p":6,"d":57,"f":9.6,"j":9.6},{"p":6,"d":61,"f":9.0,"j":9.0},{"p":6,"d":64,"f":8.0,"j":8.0},{"p":6,"d":68,"f":9.6,"j":9.6},{"p":6,"d":72,"f":8.3,"j":8.3},{"p":6,"d":75,"f":6.4,"j":6.4},{"p":6,"d":79,"f":8.0,"j":8.0},{"p":6,"d":83,"f":8.3,"j":8.3},{"p":6,"d":86,"f":10.1,"j":10.1},{"p":6,"d":90,"f":10.9,"j":10.9},{"p":6,"d":93,"f":12.0,"j":12.0},{"p":6,"d":97,"f":12.0,"j":12.0},{"p":6,"d":101,"f":12.8,"j":12.8},{"p":6,"d":104,"f":14.3,"j":14.3},{"p":6,"d":108,"f":15.9,"j":15.9},{"p":6,"d":112,"f":15.1,"j":15.1},{"p":6,"d":115,"f":17.2,"j":17.2},{"p":6,"d":119,"f":19.4,"j":19.4},{"p":6,"d":122,"f":16.7,"j":16.7},{"p":6,"d":126,"f":17.8,"j":17.8},{"p":6,"d":130,"f":17.8,"j":17.8},{"p":6,"d":133,"f":17.2,"j":17.2},{"p":6,"d":137,"f":18.8,"j":18.8},{"p":6,"d":141,"f":19.9,"j":19.9},{"p":6,"d":144,"f":19.4,"j":19.4},{"p":6,"d":148,"f":20.4,"j":20.4},{"p":6,"d":151,"f":21.7,"j":21.7},{"p":6,"d":155,"f":23.1,"j":23.1},{"p":6,"d":159,"f":22.5,"j":22.5},{"p":6,"d":162,"f":24.1,"j":24.1},{"p":6,"d":166,"f":24.7,"j":24.7},{"p":6,"d":170,"f":23.9,"j":23.9},{"p":6,"d":173,"f":23.6,"j":23.6},{"p":6,"d":174,"f":21.0,"j":20.8},{"p":6,"d":175,"f":24.0,"j":24.1},{"p":6,"d":177,"f":24.1,"j":24.1},{"p":6,"d":180,"f":23.3,"j":23.3},{"p":6,"d":184,"f":26.0,"j":26.0},{"p":6,"d":186,"f":22.2,"j":21.8},{"p":6,"d":187,"f":26.2,"j":26.3},{"p":6,"d":188,"f":26.5,"j":26.5},{"p":6,"d":191,"f":27.3,"j":27.3},{"p":6,"d":195,"f":25.7,"j":25.7},{"p":6,"d":196,"f":21.8,"j":21.2},{"p":6,"d":197,"f":26.0,"j":26.2},{"p":6,"d":199,"f":26.8,"j":26.8},{"p":6,"d":202,"f":28.4,"j":28.4},{"p":6,"d":206,"f":26.8,"j":26.8},{"p":6,"d":209,"f":26.2,"j":26.2},{"p":6,"d":213,"f":26.8,"j":26.8},{"p":6,"d":217,"f":26.2,"j":26.2},{"p":6,"d":220,"f":26.5,"j":26.5},{"p":6,"d":224,"f":26.0,"j":26.0},{"p":6,"d":228,"f":26.8,"j":26.8},{"p":6,"d":231,"f":27.6,"j":27.6},{"p":6,"d":235,"f":28.4,"j":28.4},{"p":6,"d":238,"f":26.5,"j":26.5},{"p":6,"d":242,"f":25.4,"j":25.4},{"p":6,"d":246,"f":24.9,"j":24.9},{"p":6,"d":249,"f":24.4,"j":24.4},{"p":6,"d":253,"f":23.6,"j":23.6},{"p":6,"d":257,"f":23.3,"j":23.3},{"p":6,"d":260,"f":24.9,"j":24.9},{"p":6,"d":264,"f":24.1,"j":24.1},
{"p":6,"d":267,"f":24.9},{"p":6,"d":271,"f":24.9},{"p":6,"d":275,"f":23.3},{"p":6,"d":278,"f":22.5},{"p":6,"d":282,"f":23.1},{"p":6,"d":286,"f":23.3},{"p":6,"d":289,"f":22.3},{"p":6,"d":293,"f":21.0},{"p":6,"d":296,"f":21.2},{"p":6,"d":300,"f":19.9},{"p":6,"d":304,"f":19.6},{"p":6,"d":307,"f":19.9},{"p":6,"d":311,"f":19.4},{"p":6,"d":314,"f":16.7},{"p":6,"d":317,"f":15.1},{"p":6,"d":321,"f":13.8},{"p":6,"d":324,"f":13.3},{"p":6,"d":328,"f":12.5},{"p":6,"d":331,"f":12.2},{"p":6,"d":335,"f":12.5},{"p":6,"d":339,"f":12.8},{"p":6,"d":342,"f":12.5},{"p":6,"d":345,"f":10.4},{"p":6,"d":348,"f":8.8},{"p":6,"d":352,"f":10.1},{"p":6,"d":354,"f":8.5},{"p":6,"d":358,"f":12.5},{"p":6,"d":360,"f":9.3},{"p":6,"d":363,"f":7.5},{"p":6,"d":365,"f":6.1},
{"p":6,"d":102,"o":13.5},{"p":6,"d":105,"o":14.5},{"p":6,"d":108,"o":15.0},{"p":6,"d":111,"o":16.0},{"p":6,"d":114,"o":17.5},{"p":6,"d":117,"o":17.0},{"p":6,"d":119,"o":14.0},{"p":6,"d":122,"o":17.0},{"p":6,"d":126,"o":17.5},{"p":6,"d":129,"o":15.5},{"p":6,"d":132,"o":17.0},{"p":6,"d":135,"o":16.0},{"p":6,"d":138,"o":19.5},{"p":6,"d":141,"o":23.0},{"p":6,"d":144,"o":19.0},{"p":6,"d":147,"o":18.5},{"p":6,"d":150,"o":20.0},{"p":6,"d":153,"o":22.0},{"p":6,"d":156,"o":23.5},{"p":6,"d":159,"o":21.5},{"p":6,"d":162,"o":26.5},{"p":6,"d":165,"o":24.0},{"p":6,"d":168,"o":22.0},{"p":6,"d":171,"o":21.0},{"p":6,"d":174,"o":23.0},{"p":6,"d":177,"o":24.5},{"p":6,"d":181,"o":24.5},{"p":6,"d":184,"o":26.0},{"p":6,"d":188,"o":26.0},{"p":6,"d":191,"o":24.5},{"p":6,"d":195,"o":27.0},{"p":6,"d":198,"o":28.5},{"p":6,"d":202,"o":25.0},{"p":6,"d":205,"o":21.5},{"p":6,"d":208,"o":23.0},{"p":6,"d":211,"o":25.0},{"p":6,"d":215,"o":24.0},{"p":6,"d":219,"o":24.0},{"p":6,"d":222,"o":24.5},{"p":6,"d":226,"o":24.5},{"p":6,"d":229,"o":24.5},{"p":6,"d":233,"o":25.5},{"p":6,"d":236,"o":27.0},{"p":6,"d":239,"o":25.5},{"p":6,"d":243,"o":24.0},{"p":6,"d":246,"o":24.0},{"p":6,"d":250,"o":23.5},{"p":6,"d":253,"o":22.5},{"p":6,"d":257,"o":23.0},{"p":6,"d":260,"o":24.0},{"p":6,"d":264,"o":24.0},{"p":6,"d":268,"o":24.5},{"p":6,"d":271,"o":24.0},{"p":6,"d":275,"o":21.2},{"p":6,"d":278,"o":22.5},{"p":6,"d":282,"o":23.0},{"p":6,"d":285,"o":24.4},{"p":6,"d":289,"o":22.0},{"p":6,"d":292,"o":20.5},{"p":6,"d":296,"o":21.0},{"p":6,"d":299,"o":20.0},{"p":6,"d":303,"o":18.0},{"p":6,"d":307,"o":18.5},{"p":6,"d":311,"o":18.0},{"p":6,"d":314,"o":16.0},{"p":6,"d":317,"o":14.0},{"p":6,"d":321,"o":13.0},{"p":6,"d":324,"o":12.5},{"p":6,"d":328,"o":11.5},{"p":6,"d":331,"o":12.0},{"p":6,"d":335,"o":12.8},{"p":6,"d":339,"o":12.5},{"p":6,"d":342,"o":11.5},{"p":6,"d":345,"o":10.0},{"p":6,"d":349,"o":8.0},{"p":6,"d":352,"o":7.5},{"p":6,"d":355,"o":8.0},{"p":6,"d":359,"o":8.0},{"p":6,"d":362,"o":7.0},{"p":6,"d":365,"o":6.0}
]},
"transform":[{"fold":["o","f","j"],"as":["s","v"]},{"filter":"isValid(datum.v) || (isValid(datum.a) && datum.s == 'o')"}],
"columns":3,
"spacing":{"row":19,"column":10.2},
"resolve":{"scale":{"color":"independent"},"legend":{"color":"independent"}},
"concat":[
{"width":1252,"height":503,"title":"Annapolis(NDBC) (44063)","transform":[{"filter":"datum.p == 1"}],"layer":[
{"encoding":{"x":{"field":"d","type":"quantitative","scale":{"domain":[0,365],"nice":false,"zero":false},"axis":{"title":null,"labelPadding":11.6,"values":[0,31,59,90,120,151,181,212,243,273,304,334],"labelExpr":"indexof([0,31,59,90,120,151,181,212,243,273,304,334], datum.value) + 1"}},"y":{"field":"v","type":"quantitative","scale":{"domain":[0,40],"nice":false},"axis":{"title":"Temperature (°C)","values":[0,5,10,15,20,25,30,35,40],"titlePadding":16.4}},
"color":{"field":"s","type":"nominal","scale":{"domain":["o","f","j"],"range":["#ff0000","#008000","#0000ff"]},"legend":{"title":null,"orient":"top-right","offset":10,"padding":6,"rowPadding":6,"labelFontSize":18.5,"labelFont":"DejaVu Sans","labelColor":"black","labelOffset":31,"labelLimit":400,"symbolSize":187,"symbolStrokeWidth":3.1,"strokeColor":"#cccccc","fillColor":"white","cornerRadius":5.5,"labelExpr":"datum.value === 'o' ? 'Obs' : datum.value === 'f' ? 'RUN100f_SE' : 'RUN100j_SE'","encode":{"legend":{"update":{"strokeWidth":{"value":2}}},"symbols":{"update":{"shape":{"signal":"datum.value === 'o' ? 'M1.31,0A0.44,0.44,0,1,1,2.19,0A0.44,0.44,0,1,1,1.31,0Z' : 'M-1.2,0L4.7,0'"},"fill":{"signal":"datum.value === 'o' ? '#ff0000' : 'transparent'"},"stroke":{"signal":"datum.value === 'o' ? '#ff0000' : datum.value === 'f' ? '#008000' : '#0000ff'"},"strokeDash":{"signal":"datum.value === 'j' ? [8.9,6.1] : [1,0]"},"strokeWidth":{"value":3.1},"opacity":{"value":1}}}}}}},
"layer":[
{"transform":[{"filter":"datum.s == 'o' && isValid(datum.v)"}],"mark":{"type":"line","strokeWidth":11,"strokeCap":"round","strokeJoin":"round"},"encoding":{"detail":{"field":"g","type":"nominal"}}},
{"transform":[{"filter":"datum.s == 'o' && isValid(datum.v)"}],"mark":{"type":"point","filled":true,"size":85,"opacity":1}},
{"transform":[{"filter":"datum.s == 'f'"}],"mark":{"type":"line","strokeWidth":2.7}},
{"transform":[{"filter":"datum.s == 'j'"}],"mark":{"type":"line","strokeWidth":2.7,"strokeDash":[9.6,2.7]}}
]},
{"transform":[{"filter":"isValid(datum.a)"}],"mark":{"type":"text","align":"left","baseline":"middle","fontWeight":"bold","fontSize":21.2,"font":"DejaVu Sans","color":"black"},"encoding":{"x":{"datum":18.3,"type":"quantitative"},"y":{"datum":37.3,"type":"quantitative"},"text":{"field":"a","type":"nominal"}}}
]},
{"width":1252,"height":503,"title":"Gooses_Reef(NDBC) (44062)","transform":[{"filter":"datum.p == 2"}],"layer":[
{"encoding":{"x":{"field":"d","type":"quantitative","scale":{"domain":[0,365],"nice":false,"zero":false},"axis":{"title":null,"labelPadding":11.6,"values":[0,31,59,90,120,151,181,212,243,273,304,334],"labelExpr":"indexof([0,31,59,90,120,151,181,212,243,273,304,334], datum.value) + 1"}},"y":{"field":"v","type":"quantitative","scale":{"domain":[0,40],"nice":false},"axis":{"title":"Temperature (°C)","values":[0,5,10,15,20,25,30,35,40],"titlePadding":16.4}},
"color":{"field":"s","type":"nominal","scale":{"domain":["o","f","j"],"range":["#ff0000","#008000","#0000ff"]},"legend":null}},
"layer":[
{"transform":[{"filter":"datum.s == 'o' && isValid(datum.v)"}],"mark":{"type":"line","strokeWidth":11,"strokeCap":"round","strokeJoin":"round"},"encoding":{"detail":{"field":"g","type":"nominal"}}},
{"transform":[{"filter":"datum.s == 'o' && isValid(datum.v)"}],"mark":{"type":"point","filled":true,"size":85,"opacity":1}},
{"transform":[{"filter":"datum.s == 'f'"}],"mark":{"type":"line","strokeWidth":2.7}},
{"transform":[{"filter":"datum.s == 'j'"}],"mark":{"type":"line","strokeWidth":2.7,"strokeDash":[9.6,2.7]}}
]},
{"transform":[{"filter":"isValid(datum.a)"}],"mark":{"type":"text","align":"left","baseline":"middle","fontWeight":"bold","fontSize":21.2,"font":"DejaVu Sans","color":"black"},"encoding":{"x":{"datum":18.3,"type":"quantitative"},"y":{"datum":37.3,"type":"quantitative"},"text":{"field":"a","type":"nominal"}}}
]},
{"width":1252,"height":503,"title":"Potomac(NDBC) (44042)","transform":[{"filter":"datum.p == 3"}],"layer":[
{"encoding":{"x":{"field":"d","type":"quantitative","scale":{"domain":[0,365],"nice":false,"zero":false},"axis":{"title":null,"labelPadding":11.6,"values":[0,31,59,90,120,151,181,212,243,273,304,334],"labelExpr":"indexof([0,31,59,90,120,151,181,212,243,273,304,334], datum.value) + 1"}},"y":{"field":"v","type":"quantitative","scale":{"domain":[0,40],"nice":false},"axis":{"title":"Temperature (°C)","values":[0,5,10,15,20,25,30,35,40],"titlePadding":16.4}},
"color":{"field":"s","type":"nominal","scale":{"domain":["o","f","j"],"range":["#ff0000","#008000","#0000ff"]},"legend":null}},
"layer":[
{"transform":[{"filter":"datum.s == 'o' && isValid(datum.v)"}],"mark":{"type":"line","strokeWidth":11,"strokeCap":"round","strokeJoin":"round"},"encoding":{"detail":{"field":"g","type":"nominal"}}},
{"transform":[{"filter":"datum.s == 'o' && isValid(datum.v)"}],"mark":{"type":"point","filled":true,"size":85,"opacity":1}},
{"transform":[{"filter":"datum.s == 'f'"}],"mark":{"type":"line","strokeWidth":2.7}},
{"transform":[{"filter":"datum.s == 'j'"}],"mark":{"type":"line","strokeWidth":2.7,"strokeDash":[9.6,2.7]}}
]},
{"transform":[{"filter":"isValid(datum.a)"}],"mark":{"type":"text","align":"left","baseline":"middle","fontWeight":"bold","fontSize":21.2,"font":"DejaVu Sans","color":"black"},"encoding":{"x":{"datum":18.3,"type":"quantitative"},"y":{"datum":37.3,"type":"quantitative"},"text":{"field":"a","type":"nominal"}}}
]},
{"width":1252,"height":503,"title":"Stingray_Point(NDBC) (44058)","transform":[{"filter":"datum.p == 4"}],"layer":[
{"encoding":{"x":{"field":"d","type":"quantitative","scale":{"domain":[0,365],"nice":false,"zero":false},"axis":{"title":null,"labelPadding":11.6,"values":[0,31,59,90,120,151,181,212,243,273,304,334],"labelExpr":"indexof([0,31,59,90,120,151,181,212,243,273,304,334], datum.value) + 1"}},"y":{"field":"v","type":"quantitative","scale":{"domain":[0,40],"nice":false},"axis":{"title":"Temperature (°C)","values":[0,5,10,15,20,25,30,35,40],"titlePadding":16.4}},
"color":{"field":"s","type":"nominal","scale":{"domain":["o","f","j"],"range":["#ff0000","#008000","#0000ff"]},"legend":null}},
"layer":[
{"transform":[{"filter":"datum.s == 'o' && isValid(datum.v)"}],"mark":{"type":"line","strokeWidth":11,"strokeCap":"round","strokeJoin":"round"},"encoding":{"detail":{"field":"g","type":"nominal"}}},
{"transform":[{"filter":"datum.s == 'o' && isValid(datum.v)"}],"mark":{"type":"point","filled":true,"size":85,"opacity":1}},
{"transform":[{"filter":"datum.s == 'f'"}],"mark":{"type":"line","strokeWidth":2.7}},
{"transform":[{"filter":"datum.s == 'j'"}],"mark":{"type":"line","strokeWidth":2.7,"strokeDash":[9.6,2.7]}}
]},
{"transform":[{"filter":"isValid(datum.a)"}],"mark":{"type":"text","align":"left","baseline":"middle","fontWeight":"bold","fontSize":21.2,"font":"DejaVu Sans","color":"black"},"encoding":{"x":{"datum":18.3,"type":"quantitative"},"y":{"datum":37.3,"type":"quantitative"},"text":{"field":"a","type":"nominal"}}}
]},
{"width":1252,"height":503,"title":"York_Spit(NDBC) (44072)","transform":[{"filter":"datum.p == 5"}],"layer":[
{"encoding":{"x":{"field":"d","type":"quantitative","scale":{"domain":[0,365],"nice":false,"zero":false},"axis":{"title":null,"labelPadding":11.6,"values":[0,31,59,90,120,151,181,212,243,273,304,334],"labelExpr":"indexof([0,31,59,90,120,151,181,212,243,273,304,334], datum.value) + 1"}},"y":{"field":"v","type":"quantitative","scale":{"domain":[0,40],"nice":false},"axis":{"title":"Temperature (°C)","values":[0,5,10,15,20,25,30,35,40],"titlePadding":16.4}},
"color":{"field":"s","type":"nominal","scale":{"domain":["o","f","j"],"range":["#ff0000","#008000","#0000ff"]},"legend":null}},
"layer":[
{"transform":[{"filter":"datum.s == 'o' && isValid(datum.v)"}],"mark":{"type":"line","strokeWidth":11,"strokeCap":"round","strokeJoin":"round"},"encoding":{"detail":{"field":"g","type":"nominal"}}},
{"transform":[{"filter":"datum.s == 'o' && isValid(datum.v)"}],"mark":{"type":"point","filled":true,"size":85,"opacity":1}},
{"transform":[{"filter":"datum.s == 'f'"}],"mark":{"type":"line","strokeWidth":2.7}},
{"transform":[{"filter":"datum.s == 'j'"}],"mark":{"type":"line","strokeWidth":2.7,"strokeDash":[9.6,2.7]}}
]},
{"transform":[{"filter":"isValid(datum.a)"}],"mark":{"type":"text","align":"left","baseline":"middle","fontWeight":"bold","fontSize":21.2,"font":"DejaVu Sans","color":"black"},"encoding":{"x":{"datum":18.3,"type":"quantitative"},"y":{"datum":37.3,"type":"quantitative"},"text":{"field":"a","type":"nominal"}}}
]},
{"width":1252,"height":503,"title":"First_Landing(NDBC) (44064)","transform":[{"filter":"datum.p == 6"}],"layer":[
{"encoding":{"x":{"field":"d","type":"quantitative","scale":{"domain":[0,365],"nice":false,"zero":false},"axis":{"title":null,"labelPadding":11.6,"values":[0,31,59,90,120,151,181,212,243,273,304,334],"labelExpr":"indexof([0,31,59,90,120,151,181,212,243,273,304,334], datum.value) + 1"}},"y":{"field":"v","type":"quantitative","scale":{"domain":[0,40],"nice":false},"axis":{"title":"Temperature (°C)","values":[0,5,10,15,20,25,30,35,40],"titlePadding":16.4}},
"color":{"field":"s","type":"nominal","scale":{"domain":["o","f","j"],"range":["#ff0000","#008000","#0000ff"]},"legend":null}},
"layer":[
{"transform":[{"filter":"datum.s == 'o' && isValid(datum.v)"}],"mark":{"type":"line","strokeWidth":11,"strokeCap":"round","strokeJoin":"round"},"encoding":{"detail":{"field":"g","type":"nominal"}}},
{"transform":[{"filter":"datum.s == 'o' && isValid(datum.v)"}],"mark":{"type":"point","filled":true,"size":85,"opacity":1}},
{"transform":[{"filter":"datum.s == 'f'"}],"mark":{"type":"line","strokeWidth":2.7}},
{"transform":[{"filter":"datum.s == 'j'"}],"mark":{"type":"line","strokeWidth":2.7,"strokeDash":[9.6,2.7]}}
]},
{"transform":[{"filter":"isValid(datum.a)"}],"mark":{"type":"text","align":"left","baseline":"middle","fontWeight":"bold","fontSize":21.2,"font":"DejaVu Sans","color":"black"},"encoding":{"x":{"datum":18.3,"type":"quantitative"},"y":{"datum":37.3,"type":"quantitative"},"text":{"field":"a","type":"nominal"}}}
]}
]
}
